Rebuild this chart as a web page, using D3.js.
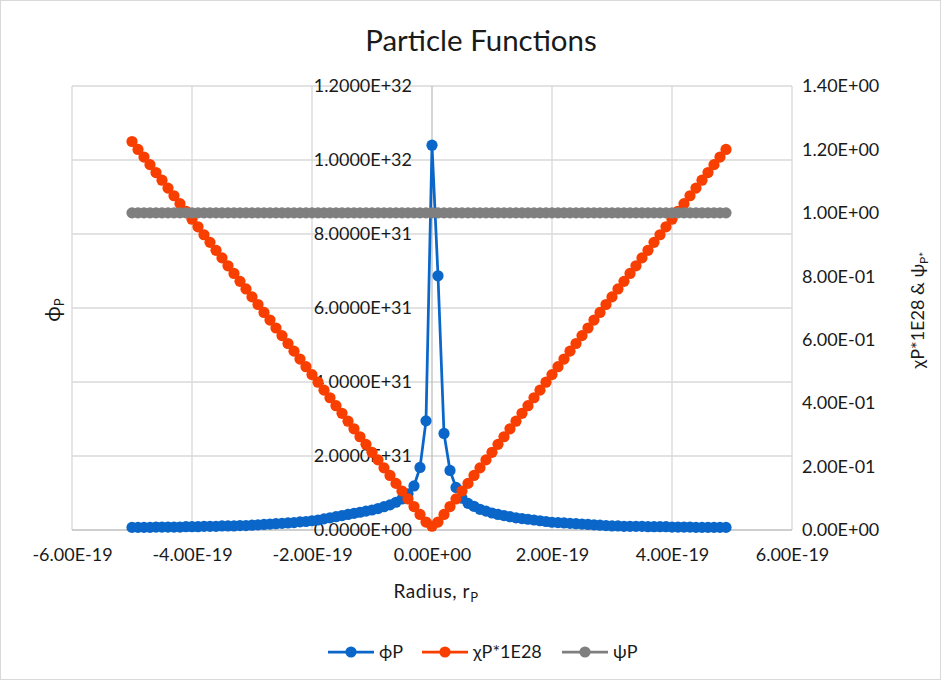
<!DOCTYPE html>
<html><head><meta charset="utf-8">
<script src="https://cdn.jsdelivr.net/npm/d3@7"></script>
<style>
html,body{margin:0;padding:0;background:#fff;}
text{font-family:Lato,"Open Sans","DejaVu Sans",sans-serif;fill:#1a1a1a;}
</style></head>
<body>
<svg id="chart" width="941" height="680"></svg>
<script>
// Radius in units of 1E-20
const radiusE20 = [-50,-49,-48,-47,-46,-45,-44,-43,-42,-41,
  -40,-39,-38,-37,-36,-35,-34,-33,-32,-31,
  -30,-29,-28,-27,-26,-25,-24,-23,-22,-21,
  -20,-19,-18,-17,-16,-15,-14,-13,-12,-11,
  -10,-9,-8,-7,-6,-5,-4,-3,-2,-1,
  0,1,2,3,4,5,6,7,8,9,
  10,11,12,13,14,15,16,17,18,19,
  20,21,22,23,24,25,26,27,28,29,
  30,31,32,33,34,35,36,37,38,39,
  40,41,42,43,44,45,46,47,48,49];
// phiP in units of 1E31
const phiP_E31 = [0.07,0.07,0.07,0.07,0.08,0.08,0.08,0.08,0.08,0.09,
  0.09,0.09,0.10,0.10,0.10,0.11,0.11,0.11,0.12,0.12,
  0.13,0.14,0.15,0.16,0.17,0.18,0.19,0.20,0.22,0.23,
  0.25,0.27,0.30,0.33,0.36,0.39,0.42,0.45,0.48,0.51,
  0.54,0.58,0.63,0.68,0.75,0.84,0.98,1.19,1.69,2.95,
  10.4,6.87,2.61,1.61,1.15,0.86,0.72,0.64,0.56,0.51,
  0.46,0.42,0.39,0.36,0.33,0.31,0.29,0.27,0.25,0.23,
  0.21,0.20,0.19,0.18,0.17,0.16,0.15,0.14,0.13,0.12,
  0.11,0.11,0.10,0.10,0.10,0.10,0.09,0.09,0.09,0.09,
  0.08,0.08,0.08,0.08,0.07,0.07,0.07,0.07,0.07,0.07];
// chiP * 1E28
const chiP_1E28 = [1.225,1.200,1.176,1.152,1.127,1.103,1.078,1.054,1.029,1.005,
  0.980,0.956,0.931,0.907,0.882,0.858,0.833,0.809,0.784,0.760,
  0.735,0.711,0.686,0.662,0.637,0.613,0.588,0.564,0.539,0.515,
  0.490,0.466,0.441,0.417,0.392,0.368,0.343,0.319,0.294,0.270,
  0.245,0.221,0.196,0.172,0.147,0.123,0.098,0.074,0.049,0.025,
  0.012,0.025,0.049,0.074,0.098,0.123,0.147,0.172,0.196,0.221,
  0.245,0.270,0.294,0.319,0.343,0.368,0.392,0.417,0.441,0.466,
  0.490,0.515,0.539,0.564,0.588,0.613,0.637,0.662,0.686,0.711,
  0.735,0.760,0.784,0.809,0.833,0.858,0.882,0.907,0.931,0.956,
  0.980,1.005,1.029,1.054,1.078,1.103,1.127,1.152,1.176,1.200];
const psiP = [1,1,1,1,1,1,1,1,1,1, 1,1,1,1,1,1,1,1,1,1,
  1,1,1,1,1,1,1,1,1,1, 1,1,1,1,1,1,1,1,1,1,
  1,1,1,1,1,1,1,1,1,1, 1,1,1,1,1,1,1,1,1,1,
  1,1,1,1,1,1,1,1,1,1, 1,1,1,1,1,1,1,1,1,1,
  1,1,1,1,1,1,1,1,1,1, 1,1,1,1,1,1,1,1,1,1];

const xTicksE20 = [-60,-40,-20,0,20,40,60];
const xTickLabels = ["-6.00E-19","-4.00E-19","-2.00E-19","0.00E+00","2.00E-19","4.00E-19","6.00E-19"];
const yLeftTicksE31 = [0,2,4,6,8,10,12];
const yLeftTickLabels = ["0.0000E+00","2.0000E+31","4.0000E+31","6.0000E+31","8.0000E+31","1.0000E+32","1.2000E+32"];
const yRightTicks = [0,0.2,0.4,0.6,0.8,1.0,1.2,1.4];
const yRightTickLabels = ["0.00E+00","2.00E-01","4.00E-01","6.00E-01","8.00E-01","1.00E+00","1.20E+00","1.40E+00"];

const seriesNames = ["ϕP","χP*1E28","ψP"];
const seriesColors = ["#0a66c8","#f83f00","#7f7f7f"];

const svg = d3.select("#chart");
const W = 941, H = 680;
const plot = {left:72, right:792, top:86, bottom:530};

svg.append("rect").attr("x",0.5).attr("y",0.5).attr("width",W-1).attr("height",H-1)
  .attr("fill","#fff").attr("stroke","#d9d9d9");

const x = d3.scaleLinear().domain([-60,60]).range([plot.left, plot.right]);
const yL = d3.scaleLinear().domain([0,12]).range([plot.bottom, plot.top]);
const yR = d3.scaleLinear().domain([0,1.4]).range([plot.bottom, plot.top]);

// gridlines
const grid = svg.append("g");
grid.selectAll("line.h").data(yLeftTicksE31.slice(1)).join("line")
  .attr("x1",plot.left).attr("x2",plot.right)
  .attr("y1",d=>yL(d)).attr("y2",d=>yL(d))
  .attr("stroke","#d9d9d9").attr("stroke-width",1.3);
grid.selectAll("line.v").data(xTicksE20.filter(d=>d!==0)).join("line")
  .attr("y1",plot.top).attr("y2",plot.bottom)
  .attr("x1",d=>x(d)).attr("x2",d=>x(d))
  .attr("stroke","#d9d9d9").attr("stroke-width",1.3);
// axis lines
svg.append("line").attr("x1",plot.left).attr("x2",plot.right).attr("y1",plot.bottom).attr("y2",plot.bottom)
  .attr("stroke","#bfbfbf").attr("stroke-width",1.3);
svg.append("line").attr("x1",x(0)).attr("x2",x(0)).attr("y1",plot.top).attr("y2",plot.bottom)
  .attr("stroke","#bfbfbf").attr("stroke-width",1.3);

const fs = 18;
// x axis
const xAxis = svg.append("g").attr("transform",`translate(0,${plot.bottom})`)
  .call(d3.axisBottom(x).tickValues(xTicksE20).tickSize(0).tickPadding(18)
    .tickFormat((d,i)=>xTickLabels[i]));
// left axis at x=0
const lAxis = svg.append("g").attr("transform",`translate(${x(0)},0)`)
  .call(d3.axisLeft(yL).tickValues(yLeftTicksE31).tickSize(0).tickPadding(20)
    .tickFormat((d,i)=>yLeftTickLabels[i]));
// right axis
const rAxis = svg.append("g").attr("transform",`translate(${plot.right},0)`)
  .call(d3.axisRight(yR).tickValues(yRightTicks).tickSize(0).tickPadding(10)
    .tickFormat((d,i)=>yRightTickLabels[i]));
[xAxis,lAxis,rAxis].forEach(g=>{
  g.select(".domain").remove();
  g.selectAll("text").attr("font-family","Lato, sans-serif").attr("font-size",fs).attr("fill","#1a1a1a");
});

// series
const idx = d3.range(radiusE20.length);
function drawSeries(vals, yScale, color){
  const g = svg.append("g");
  const line = d3.line().x(i=>x(radiusE20[i])).y(i=>yScale(vals[i]));
  g.append("path").datum(idx).attr("d",line).attr("fill","none")
    .attr("stroke",color).attr("stroke-width",2.75).attr("stroke-linejoin","round");
  g.selectAll("circle").data(idx).join("circle")
    .attr("cx",i=>x(radiusE20[i])).attr("cy",i=>yScale(vals[i])).attr("r",5.6)
    .attr("fill",color);
}
drawSeries(phiP_E31, yL, seriesColors[0]);
drawSeries(chiP_1E28, yR, seriesColors[1]);
drawSeries(psiP, yR, seriesColors[2]);

// title
svg.append("text").attr("x",481).attr("y",51).attr("text-anchor","middle")
  .attr("font-size",29.5).text("Particle Functions");

// x axis title
const xt = svg.append("text").attr("x",436).attr("y",598).attr("text-anchor","middle")
  .attr("font-size",19).attr("letter-spacing",0.6);
xt.append("tspan").text("Radius, r");
xt.append("tspan").attr("font-size",13).attr("dy",4).text("P");

// left axis title
const lt = svg.append("text").attr("transform","translate(60,310) rotate(-90)").attr("text-anchor","middle").attr("font-size",21);
lt.append("tspan").text("ϕ");
lt.append("tspan").attr("font-size",13).attr("dy",4).text("P");

// right axis title
const rt = svg.append("text").attr("transform","translate(924,310) rotate(-90)").attr("text-anchor","middle").attr("font-size",fs);
rt.append("tspan").text("χP*1E28 & ψ");
rt.append("tspan").attr("font-size",12).attr("dy",4).text("P*");

// legend
const legendX = [328, 422, 562];
const leg = svg.append("g");
seriesNames.forEach((name,i)=>{
  const gx = legendX[i], gy = 652;
  leg.append("line").attr("x1",gx).attr("x2",gx+46).attr("y1",gy).attr("y2",gy)
    .attr("stroke",seriesColors[i]).attr("stroke-width",2.75);
  leg.append("circle").attr("cx",gx+23).attr("cy",gy).attr("r",5.6).attr("fill",seriesColors[i]);
  leg.append("text").attr("x",gx+51).attr("y",gy).attr("dy","0.35em").attr("font-size",fs).text(name);
});
</script>
</body></html>
